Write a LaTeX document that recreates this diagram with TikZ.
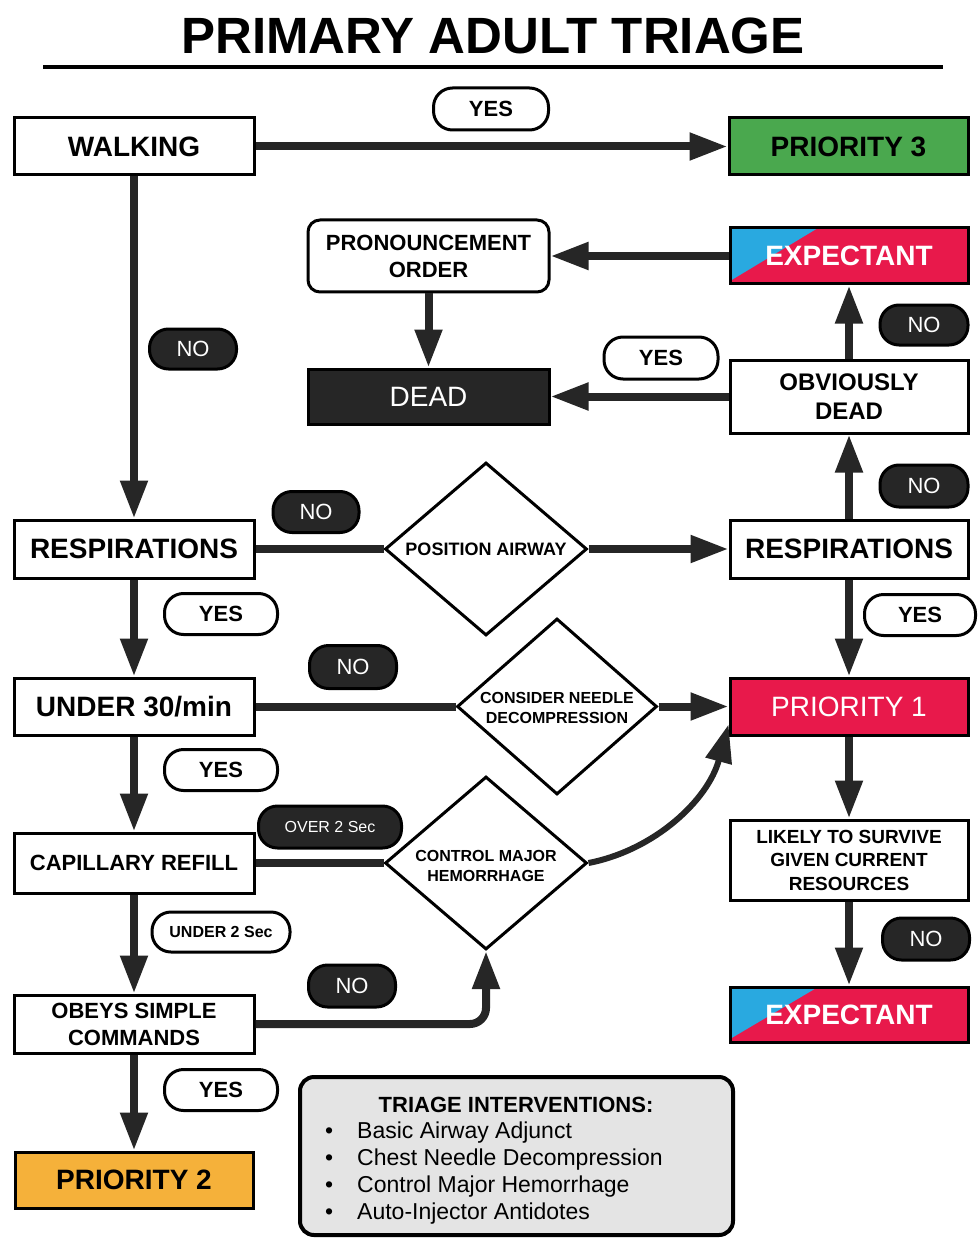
\documentclass[tikz,border=0pt]{standalone}
\usepackage{fontspec}
\setmainfont{Liberation Sans}
\usetikzlibrary{arrows.meta,shapes.geometric}
\definecolor{pgreen}{HTML}{4AA84E}
\definecolor{pred}{HTML}{E8194B}
\definecolor{pblue}{HTML}{29A9E0}
\definecolor{porange}{HTML}{F5B13A}
\definecolor{pdark}{HTML}{262626}
\definecolor{pgray}{HTML}{E4E4E4}
\tikzset{
  box/.style={draw=black,line width=3pt,inner sep=0pt,minimum width=240pt,minimum height=57pt,align=center,font=\bfseries\fontsize{28}{32}\selectfont},
  smallbox/.style={box,font=\bfseries\fontsize{22}{27}\selectfont},
  diam/.style={draw=black,line width=3pt,diamond,inner sep=0pt,minimum width=202pt,minimum height=173pt},
  dtext/.style={align=center,inner sep=0pt,font=\bfseries\fontsize{16}{19.5}\selectfont},
  pill/.style={draw=black,fill=white,line width=3pt,rounded corners=19pt,inner sep=0pt,minimum height=42pt,font=\bfseries\fontsize{22}{26}\selectfont},
  bpill/.style={pill,fill=pdark,text=white,font=\fontsize{22}{26}\selectfont},
  conn/.style={line width=8pt,draw=pdark,-{Triangle[length=38pt,width=26pt]}},
  plain/.style={line width=8pt,draw=pdark},
  expect/.style={box,fill=pred,text=white,minimum width=238pt,minimum height=56pt,
    path picture={\fill[pblue] (path picture bounding box.north west) -- ([xshift=88pt]path picture bounding box.north west) -- ([yshift=3pt]path picture bounding box.south west) -- cycle;}}
}
\begin{document}
\begin{tikzpicture}[x=1pt,y=-1pt]
\useasboundingbox[fill=white] (0,0) rectangle (977,1238);
% title
\node[font=\bfseries\fontsize{51}{60}\selectfont,inner sep=0pt] (title) at (493,36) {PRIMARY ADULT TRIAGE};
\draw[line width=4pt] (43,67) -- (943,67);

% nodes
\node[box] (walk) at (134,146.5) {WALKING};
\node[box,fill=pgreen,minimum width=239pt] (p3) at (848.5,146.5) {PRIORITY 3};
\node[smallbox,rounded corners=12pt,minimum width=241pt,minimum height=72pt] (pron) at (428.5,256) {PRONOUNCEMENT\\ORDER};
\node[expect] (exp1) at (849,256) {EXPECTANT};
\node[box,fill=pdark,text=white,font=\fontsize{28}{32}\selectfont,minimum width=241pt,minimum height=55pt] (dead) at (428.5,396.5) {DEAD};
\node[box,font=\bfseries\fontsize{24}{29}\selectfont,minimum width=238pt,minimum height=73pt] (obv) at (849,396.5) {OBVIOUSLY\\DEAD};
\node[box,minimum height=58pt] (respL) at (134,549) {RESPIRATIONS};
\node[box,minimum width=238pt,minimum height=58pt] (respR) at (849,549) {RESPIRATIONS};
\node[diam] (d1) at (486,549) {};
\node[dtext,font=\bfseries\fontsize{18}{22}\selectfont] (d1t) at (486,549) {POSITION AIRWAY};
\node[box] (under) at (134,706.5) {UNDER 30/min};
\node[diam,minimum width=200pt,minimum height=176pt] (d2) at (557,706.5) {};
\node[dtext] (d2t) at (557,708) {CONSIDER NEEDLE\\DECOMPRESSION};
\node[box,fill=pred,text=white,font=\fontsize{28}{32}\selectfont,minimum width=238pt] (p1) at (849,706.5) {PRIORITY 1};
\node[smallbox,minimum height=60pt] (cap) at (134,863) {CAPILLARY REFILL};
\node[diam] (d3) at (486,863) {};
\node[dtext] (d3t) at (486,866) {CONTROL MAJOR\\HEMORRHAGE};
\node[box,font=\bfseries\fontsize{19}{23.5}\selectfont,minimum width=238pt,minimum height=80pt] (likely) at (849,860) {LIKELY TO SURVIVE\\GIVEN CURRENT\\RESOURCES};
\node[smallbox,minimum height=58pt] (obey) at (134,1024) {OBEYS SIMPLE\\COMMANDS};
\node[expect,minimum height=55pt] (exp2) at (849,1014.5) {EXPECTANT};
\node[box,fill=porange,minimum width=238pt,minimum height=56pt] (p2) at (134,1180) {PRIORITY 2};

% interventions box
\node[draw=black,fill=pgray,line width=4pt,rounded corners=14pt,minimum width=433pt,minimum height=158pt,inner sep=0pt] (tri) at (516.5,1156) {};
\node[font=\bfseries\fontsize{22}{26}\selectfont,inner sep=0pt] (trit) at (516,1105) {TRIAGE INTERVENTIONS:};
\node[anchor=north west,align=left,inner sep=0pt,font=\fontsize{23}{27}\selectfont] (tril) at (325,1122)
 {\makebox[32pt][l]{\textbullet}Basic Airway Adjunct\\
  \makebox[32pt][l]{\textbullet}Chest Needle Decompression\\
  \makebox[32pt][l]{\textbullet}Control Major Hemorrhage\\
  \makebox[32pt][l]{\textbullet}Auto-Injector Antidotes};

% connectors
\draw[conn] (walk.east) -- (p3.west);
\draw[conn] (walk.south) -- (respL.north);
\draw[conn] (exp1.west) -- (pron.east);
\draw[conn] (pron.south) -- (dead.north);
\draw[conn] (obv.west) -- (dead.east);
\draw[conn] (obv.north) -- (exp1.south);
\draw[conn] (respR.north) -- (obv.south);
\draw[plain] (respL.east) -- (d1.west);
\draw[conn] (d1.east) -- (respR.west);
\draw[conn] (respL.south) -- (under.north);
\draw[conn] (respR.south) -- (p1.north);
\draw[plain] (under.east) -- (d2.west);
\draw[conn] (d2.east) -- (p1.west);
\draw[conn] (under.south) -- (cap.north);
\draw[plain] (cap.east) -- (d3.west);
\draw[conn,line width=6pt] (d3.east) .. controls (655,850) and (708,800) .. ([yshift=12pt]p1.south west);
\draw[conn] (cap.south) -- (obey.north);
\draw[conn,rounded corners=16pt] (obey.east) -| (d3.south);
\draw[conn] (obey.south) -- (p2.north);
\draw[conn] (p1.south) -- (likely.north);
\draw[conn] (likely.south) -- (exp2.north);

% labels
\node[pill,minimum width=115pt] (yes1) at (491,109) {YES};
\node[bpill,minimum width=87pt,minimum height=40pt] (no1) at (193,349) {NO};
\node[pill,minimum width=114pt] (yes2) at (661,358) {YES};
\node[bpill,minimum width=88pt,minimum height=40pt] (no2) at (924,325) {NO};
\node[bpill,minimum width=88pt] (no3) at (924,486) {NO};
\node[bpill,minimum width=86pt,minimum height=41pt] (no4) at (316,512) {NO};
\node[pill,minimum width=111pt,minimum height=41pt] (yes3) at (920,615) {YES};
\node[pill,minimum width=113pt,minimum height=41pt] (yes4) at (221,614) {YES};
\node[bpill,minimum width=87pt,minimum height=43pt] (no5) at (353,667) {NO};
\node[pill,minimum width=113pt,minimum height=41pt] (yes5) at (221,770) {YES};
\node[bpill,minimum width=143pt,font=\fontsize{16}{19}\selectfont] (over) at (330,827) {OVER 2 Sec};
\node[pill,minimum width=138pt,minimum height=40pt,font=\bfseries\fontsize{16}{19}\selectfont] (under2) at (221,932) {UNDER 2 Sec};
\node[bpill,minimum width=87pt] (no6) at (352,986) {NO};
\node[pill,minimum width=113pt,minimum height=41pt] (yes6) at (221,1090) {YES};
\node[bpill,minimum width=87pt] (no7) at (926,939) {NO};
\end{tikzpicture}
\end{document}
